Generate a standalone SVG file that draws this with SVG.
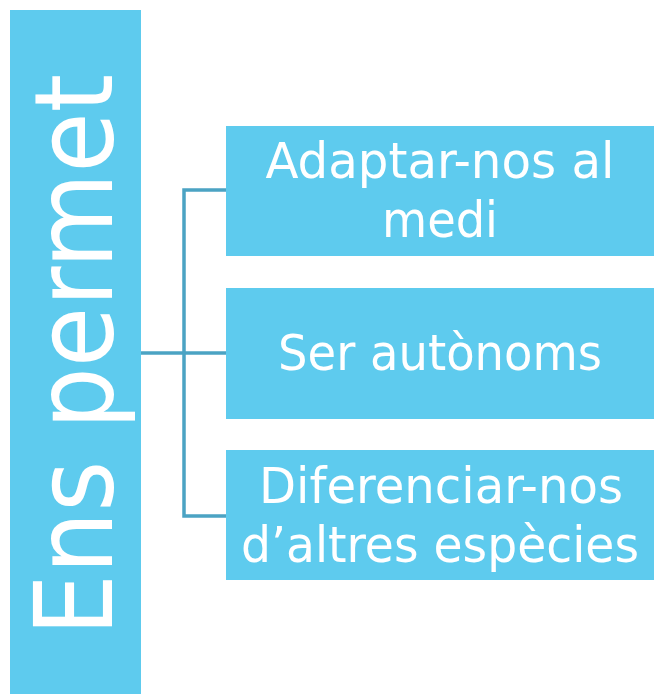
<svg xmlns="http://www.w3.org/2000/svg" width="654" height="694" viewBox="0 0 654 694">
  <style>
    .box { fill: #5ECBEE; }
    .lbl { fill: #FFFFFF; font-family: "DejaVu Sans Condensed", "DejaVu Sans", "Liberation Sans", sans-serif; font-size: 50px; text-anchor: middle; }
    .conn { fill: none; stroke: #4BA3C3; stroke-width: 3.5; }
  </style>
  <rect width="654" height="694" fill="#FFFFFF"/>
  <g id="connectors">
    <path class="conn" d="M141 353 H226"/>
    <path class="conn" d="M226 190 H184 V516 H226"/>
  </g>
  <g id="node-ens-permet">
    <rect class="box" x="10" y="10" width="131" height="684"/>
    <text transform="translate(112,636) rotate(-90)" x="0" y="0" fill="#FFFFFF" font-family="DejaVu Sans Condensed, DejaVu Sans, Liberation Sans, sans-serif" font-size="108" textLength="562" lengthAdjust="spacingAndGlyphs">Ens permet</text>
  </g>
  <g id="node-adaptar">
    <rect class="box" x="226" y="126" width="428" height="130"/>
    <text class="lbl" x="440" y="178" textLength="349" lengthAdjust="spacingAndGlyphs">Adaptar-nos al</text>
    <text class="lbl" x="440" y="237" textLength="116" lengthAdjust="spacingAndGlyphs">medi</text>
  </g>
  <g id="node-autonoms">
    <rect class="box" x="226" y="288" width="428" height="131"/>
    <text class="lbl" x="440" y="370" textLength="324" lengthAdjust="spacingAndGlyphs">Ser autònoms</text>
  </g>
  <g id="node-diferenciar">
    <rect class="box" x="226" y="450" width="428" height="130"/>
    <text class="lbl" x="441" y="503" textLength="364" lengthAdjust="spacingAndGlyphs">Diferenciar-nos</text>
    <text class="lbl" x="440" y="562" textLength="398" lengthAdjust="spacingAndGlyphs">d’altres espècies</text>
  </g>
</svg>
